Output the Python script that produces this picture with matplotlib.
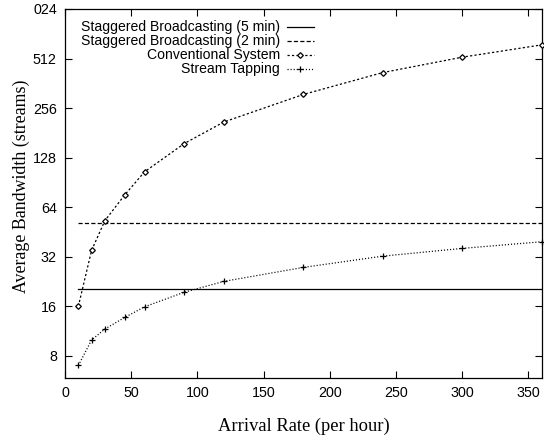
import matplotlib
matplotlib.use("Agg")
import matplotlib.pyplot as plt
from matplotlib.lines import Line2D
from matplotlib.ticker import FixedLocator, FixedFormatter, NullLocator

plt.rcParams['lines.scale_dashes'] = False

# ---- data ----
rates = [10, 20, 30, 45, 60, 90, 120, 180, 240, 300, 360]
conventional = [16, 35, 53, 76, 105, 156, 211, 310, 421, 522, 620]
tapping = [7.0, 10.0, 11.65, 13.7, 15.9, 19.5, 22.7, 27.6, 32.3, 36.0, 39.5]
stag_x = [10, 360]
stag5 = [20.5, 20.5]
stag2 = [51, 51]

labels = ["Staggered Broadcasting (5 min)", "Staggered Broadcasting (2 min)",
          "Conventional System", "Stream Tapping"]
xticks = [0, 50, 100, 150, 200, 250, 300, 350]
yticks = [8, 16, 32, 64, 128, 256, 512, 1024]
ytick_labels = ["8", "16", "32", "64", "128", "256", "512", "024"]

W, H = 544, 438
fig = plt.figure(figsize=(W / 100, H / 100), dpi=100)
ax = fig.add_axes([65.1 / W, 1 - 377.7 / H, (541.7 - 65.1) / W, (377.7 - 9) / H])

styles = [
    dict(color='black', lw=0.9, ls='-'),
    dict(color='black', lw=0.9, ls=(0, (3.0, 1.6))),
    dict(color='black', lw=0.9, ls=(0, (1.6, 1.6)), marker='D', ms=2.9,
         mfc='white', mec='black', mew=0.9),
    dict(color='black', lw=0.9, ls=(0, (0.8, 1.4)), marker='+', ms=4.8,
         mew=0.9),
]

ax.plot(stag_x, stag5, **styles[0])
ax.plot(stag_x, stag2, **styles[1])
ax.plot(rates, conventional, **styles[2], clip_on=False, zorder=3)
ax.plot(rates, tapping, **styles[3], clip_on=False, zorder=3)

ax.set_yscale('log', base=2)
ax.set_xlim(0, 360)
ax.set_ylim(5.9, 1024)

ax.xaxis.set_major_locator(FixedLocator(xticks))
ax.yaxis.set_major_locator(FixedLocator(yticks))
ax.yaxis.set_major_formatter(FixedFormatter(ytick_labels))
ax.yaxis.set_minor_locator(NullLocator())
ax.xaxis.set_minor_locator(NullLocator())

for lab in ax.get_xticklabels() + ax.get_yticklabels():
    lab.set_fontfamily('Liberation Sans')
    lab.set_fontsize(10.3)
ax.tick_params(direction='in', length=5, width=0.8, top=True, right=True,
               pad=6)
for s in ax.spines.values():
    s.set_linewidth(0.9)


def ax_x(px):
    return (px - 65.1) / (541.7 - 65.1)


def ax_y(py):
    return (377.7 - py) / (377.7 - 9)


ax.set_xlabel("Arrival Rate (per hour)", family='Liberation Serif',
              fontsize=13.3, labelpad=13)
ax.set_ylabel("Average Bandwidth (streams)", family='Liberation Serif',
              fontsize=12.9)
ax.yaxis.set_label_coords(ax_x(30), ax_y(186.5))

# ---- gnuplot-style legend (right aligned text, sample on the right) ----
rows = [27, 41, 55, 69]
for lab, st, py in zip(labels, styles, rows):
    ax.text(ax_x(280), ax_y(py), lab, transform=ax.transAxes, ha='right',
            va='center', family='Liberation Sans', fontsize=10.1)
    line_st = {k: v for k, v in st.items() if k not in ('marker', 'ms', 'mfc', 'mec', 'mew')}
    ax.add_line(Line2D([ax_x(286.7), ax_x(314)], [ax_y(py), ax_y(py)],
                       transform=ax.transAxes, **line_st))
    if 'marker' in st:
        ax.add_line(Line2D([ax_x(300.3)], [ax_y(py)], transform=ax.transAxes,
                           ls='none', marker=st['marker'], ms=st['ms'],
                           mfc=st.get('mfc', 'black'), mec=st.get('mec', 'black'),
                           mew=st['mew'], color='black'))

fig.savefig("out.png", dpi=100)
